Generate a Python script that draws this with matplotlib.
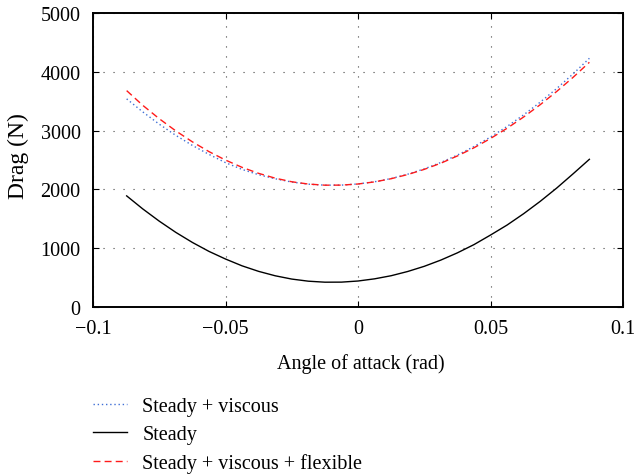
import matplotlib
matplotlib.use("Agg")
import matplotlib.pyplot as plt

# angle of attack samples (rad)
alpha = [-0.0873, -0.08125, -0.075, -0.06875, -0.0625, -0.05625, -0.05,
         -0.04375, -0.0375, -0.03125, -0.025, -0.01875, -0.0125, -0.00625,
         0.0, 0.00625, 0.0125, 0.01875, 0.025, 0.03125, 0.0375, 0.04375,
         0.05, 0.05625, 0.0625, 0.06875, 0.075, 0.08125, 0.0873]

# drag (N)
drag_viscous = [3540, 3319, 3109, 2919, 2748, 2596, 2455, 2340, 2250, 2181,
                2125, 2089, 2072, 2073, 2093, 2130, 2185, 2259, 2349, 2458,
                2584, 2729, 2891, 3071, 3268, 3484, 3717, 3969, 4230]
drag_steady = [1890, 1669, 1460, 1269, 1098, 946, 816, 700, 606, 531,
               475, 439, 422, 423, 442, 479, 532, 604, 692, 798,
               921, 1061, 1224, 1394, 1587, 1797, 2024, 2269, 2512]
drag_flexible = [3680, 3431, 3202, 2995, 2809, 2643, 2499, 2375, 2273, 2191,
                 2130, 2091, 2072, 2073, 2092, 2128, 2182, 2253, 2341, 2446,
                 2569, 2708, 2866, 3040, 3232, 3441, 3667, 3910, 4162]

x_ticks = [-0.1, -0.05, 0, 0.05, 0.1]
x_tick_labels = ["\u22120.1", "\u22120.05", "0", "0.05", "0.1"]
y_ticks = [0, 1000, 2000, 3000, 4000, 5000]

plt.rcParams["font.family"] = ["Liberation Serif", "DejaVu Serif"]
plt.rcParams["font.size"] = 14.5

fig = plt.figure(figsize=(6.34, 4.77), dpi=100)
ax = fig.add_axes([0.1467, 0.3543, 0.836, 0.6163])

ax.plot(alpha, drag_viscous, linestyle=(0, (1, 2)), color="#3f6fd6",
        linewidth=1.0, label="Steady + viscous")
ax.plot(alpha, drag_steady, "-", color="black", linewidth=1.0, label="Steady")
ax.plot(alpha, drag_flexible, linestyle=(0, (5, 3)), color="#ff1a1a",
        linewidth=1.0, label="Steady + viscous + flexible")

ax.set_xlim(-0.1, 0.1)
ax.set_ylim(0, 5000)
ax.set_xticks(x_ticks)
ax.set_xticklabels(x_tick_labels)
ax.set_yticks(y_ticks)
ax.tick_params(direction="in", top=True, right=True, length=4, width=0.8,
               pad=9, labelsize=14.5)
ax.grid(True, linestyle=(0, (1, 8)), color="#444444", linewidth=0.8)
for s in ax.spines.values():
    s.set_linewidth(1.4)

ax.set_xlabel("Angle of attack (rad)", fontsize=14.5)
ax.xaxis.set_label_coords(0.505, -0.158)
ax.set_ylabel("Drag (N)", fontsize=17)
ax.yaxis.set_label_coords(-0.12, 0.517)

handles, labels = ax.get_legend_handles_labels()
fig.legend(handles, labels, loc="upper left", bbox_to_anchor=(0.134, 0.183),
           frameon=False, fontsize=14.5, handlelength=1.7, handletextpad=0.75,
           labelspacing=0.45, borderaxespad=0)

fig.savefig("out.png", dpi=100)
